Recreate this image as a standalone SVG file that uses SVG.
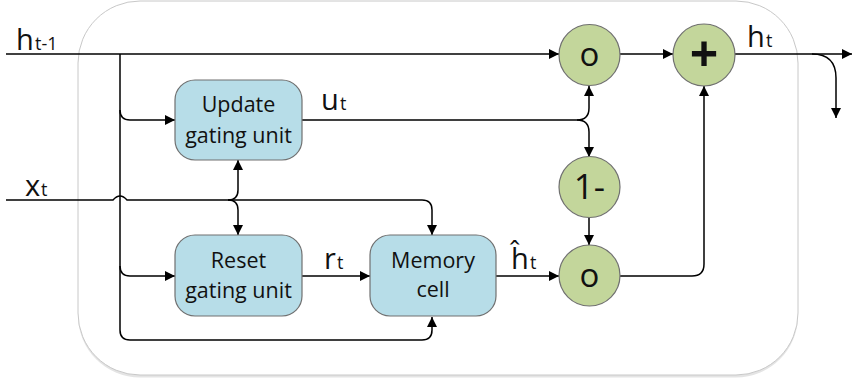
<svg xmlns="http://www.w3.org/2000/svg" width="852" height="380" viewBox="0 0 852 380">
<defs>
<marker id="arr" viewBox="0 0 10 10" refX="10" refY="5" markerWidth="11" markerHeight="10" markerUnits="userSpaceOnUse" orient="auto">
<path d="M0,0 L10,5 L0,10 Z" fill="#000"/>
</marker>
</defs>
<style>
.box{fill:#b7dde8;stroke:#707070;stroke-width:1.2}
.op{fill:#c3d69b;stroke:#707070;stroke-width:1.2}
.c{fill:none;stroke:#000;stroke-width:1.5}
.t{font-family:"Open Sans","Liberation Sans",sans-serif;fill:#111}
.bt{font-size:21.5px;text-anchor:middle}
.big{font-size:29px}
.sub{font-size:18px}
</style>
<rect x="78" y="3.5" width="720" height="374" rx="62" fill="#e4e4e4"/>
<rect x="78" y="1" width="720" height="374" rx="62" fill="#fff" stroke="#c8c8c8" stroke-width="1"/>
<g id="connectors">
<path class="c" d="M6,54 H559" marker-end="url(#arr)"/>
<path class="c" d="M120,54 V330 Q120,340 130,340 H422 Q432,340 432,330 V317" marker-end="url(#arr)"/>
<path class="c" d="M120,110 Q120,120 130,120 H175" marker-end="url(#arr)"/>
<path class="c" d="M120,266 Q120,276 130,276 H175" marker-end="url(#arr)"/>
<path class="c" d="M6,200 H113 Q120,192 127,200 H422 Q432,200 432,210 V235" marker-end="url(#arr)"/>
<path class="c" d="M228,200 Q238,200 238,190 V160" marker-end="url(#arr)"/>
<path class="c" d="M228,200 Q238,200 238,210 V235" marker-end="url(#arr)"/>
<path class="c" d="M302,120 H577 Q589,120 589,108 V86" marker-end="url(#arr)"/>
<path class="c" d="M577,120 Q589,120 589,132 V157" marker-end="url(#arr)"/>
<path class="c" d="M589,217 V245" marker-end="url(#arr)"/>
<path class="c" d="M302,276 H370" marker-end="url(#arr)"/>
<path class="c" d="M496,276 H559" marker-end="url(#arr)"/>
<path class="c" d="M620,276 H692 Q704,276 704,264 V86" marker-end="url(#arr)"/>
<path class="c" d="M620,54 H673" marker-end="url(#arr)"/>
<path class="c" d="M735,54 H852" marker-end="url(#arr)"/>
<path class="c" d="M812,54 Q836,54 836,78 V118" marker-end="url(#arr)"/>
</g>
<g id="labels">
<text class="t" x="16" y="50"><tspan class="big" font-size="30">h</tspan><tspan class="sub" x="35">t-1</tspan></text>
<text class="t" x="25" y="196"><tspan class="big">x</tspan><tspan class="sub" x="41">t</tspan></text>
<text class="t" x="321" y="110"><tspan class="big">u</tspan><tspan class="sub" x="340">t</tspan></text>
<text class="t" x="324" y="269"><tspan class="big">r</tspan><tspan class="sub" x="337">t</tspan></text>
<text class="t" x="511" y="269"><tspan class="big">ĥ</tspan><tspan class="sub" x="530">t</tspan></text>
<text class="t" x="747" y="47"><tspan class="big">h</tspan><tspan class="sub" x="766">t</tspan></text>
</g>
<g id="update">
<rect class="box" x="175" y="80" width="127" height="80" rx="20"/>
<text class="t bt" x="238.5" y="112">Update</text>
<text class="t bt" x="238.5" y="143">gating unit</text>
</g>
<g id="reset">
<rect class="box" x="175" y="235" width="127" height="81" rx="20"/>
<text class="t bt" x="238.5" y="268">Reset</text>
<text class="t bt" x="238.5" y="298">gating unit</text>
</g>
<g id="memory">
<rect class="box" x="370" y="235" width="126" height="81" rx="20"/>
<text class="t bt" x="433" y="268">Memory</text>
<text class="t bt" x="433" y="297">cell</text>
</g>
<g id="mul1">
<circle class="op" cx="589.5" cy="55" r="30.5"/>
<text class="t" x="589.5" y="66" font-size="33" text-anchor="middle">o</text>
</g>
<g id="oneminus">
<circle class="op" cx="589.5" cy="187" r="30.5"/>
<text class="t" x="589.5" y="199" font-size="35" text-anchor="middle">1-</text>
</g>
<g id="mul2">
<circle class="op" cx="589.5" cy="275.5" r="30.5"/>
<text class="t" x="589.5" y="287" font-size="33" text-anchor="middle">o</text>
</g>
<g id="plus">
<circle class="op" cx="704" cy="55" r="31"/>
<text class="t" x="704" y="72" font-size="50" font-weight="bold" text-anchor="middle">+</text>
</g>
</svg>
